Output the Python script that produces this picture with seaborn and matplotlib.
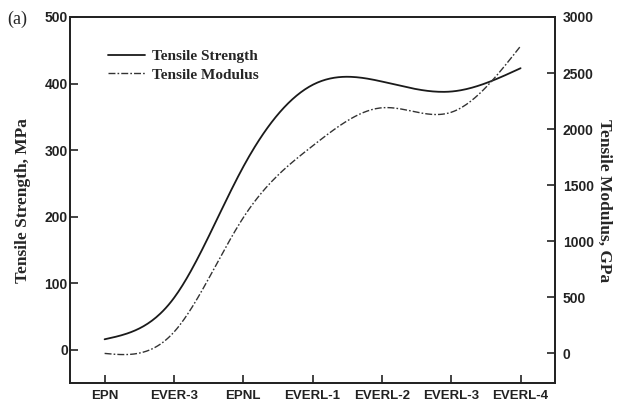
import numpy as np
import pandas as pd
import matplotlib
matplotlib.use("Agg")
import matplotlib.pyplot as plt
import seaborn as sns

categories = ["EPN", "EVER-3", "EPNL", "EVERL-1", "EVERL-2", "EVERL-3", "EVERL-4"]
tensile_strength = [16, 78, 275, 398, 403, 388, 423]        # MPa
tensile_modulus = [0, 190, 1210, 1850, 2190, 2150, 2740]    # GPa
left_ticks = [0, 100, 200, 300, 400, 500]
right_ticks = [0, 500, 1000, 1500, 2000, 2500, 3000]


def natural_spline(x, y, xs):
    x = np.asarray(x, float); y = np.asarray(y, float)
    n = len(x)
    h = np.diff(x)
    A = np.zeros((n, n)); b = np.zeros(n)
    A[0, 0] = 1; A[-1, -1] = 1
    for i in range(1, n - 1):
        A[i, i - 1] = h[i - 1]
        A[i, i] = 2 * (h[i - 1] + h[i])
        A[i, i + 1] = h[i]
        b[i] = 6 * ((y[i + 1] - y[i]) / h[i] - (y[i] - y[i - 1]) / h[i - 1])
    M = np.linalg.solve(A, b)
    out = np.empty_like(xs)
    for k, t in enumerate(xs):
        i = min(max(np.searchsorted(x, t) - 1, 0), n - 2)
        a = x[i + 1] - t; c = t - x[i]
        out[k] = (M[i] * a**3 / (6 * h[i]) + M[i + 1] * c**3 / (6 * h[i])
                  + (y[i] / h[i] - M[i] * h[i] / 6) * a
                  + (y[i + 1] / h[i] - M[i + 1] * h[i] / 6) * c)
    return out


xpos = np.arange(len(categories))
xs = np.linspace(0, len(categories) - 1, 300)
df_s = pd.DataFrame({"x": xs, "y": natural_spline(xpos, tensile_strength, xs)})
df_m = pd.DataFrame({"x": xs, "y": natural_spline(xpos, tensile_modulus, xs)})

sns.set_style("white")
plt.rcParams["font.family"] = ["Liberation Sans", "DejaVu Sans"]

fig = plt.figure(figsize=(6.19, 4.03), dpi=100)
ax = fig.add_axes([0.113, 0.049, 0.784, 0.909])
ax2 = ax.twinx()

sns.lineplot(data=df_s, x="x", y="y", ax=ax, color="#1a1a1a", linewidth=1.3,
             label="Tensile Strength", legend=False)
sns.lineplot(data=df_m, x="x", y="y", ax=ax2, color="#333333", linewidth=1.0,
             label="Tensile Modulus", legend=False)
ax2.lines[0].set_dashes([5, 1.5, 1.2, 1.5])

ax.set_xlim(-0.5, 6.5)
ax.set_ylim(-50, 500)
ax2.set_ylim(-266, 3000)
ax.set_xticks(xpos)
ax.set_xticklabels(categories)
ax.set_yticks(left_ticks)
ax2.set_yticks(right_ticks)
ax.set_xlabel(""); ax.set_ylabel(""); ax2.set_xlabel(""); ax2.set_ylabel("")

for a in (ax, ax2):
    for sp in a.spines.values():
        sp.set_linewidth(1.3)
        sp.set_color("#222222")
ax.tick_params(axis="y", direction="in", length=6, width=1.2, colors="#222222",
               labelsize=10, pad=1.5, left=True)
ax.tick_params(axis="x", direction="in", length=6, width=1.2, colors="#222222",
               labelsize=9.5, pad=5, bottom=True)
ax2.tick_params(axis="y", direction="in", length=6, width=1.2, colors="#222222",
                labelsize=10, pad=5.5, right=True)
for lab in ax.get_xticklabels() + ax.get_yticklabels() + ax2.get_yticklabels():
    lab.set_fontweight("bold")
    lab.set_color("#222222")

serif = ["Liberation Serif", "DejaVu Serif"]
ax.set_ylabel("Tensile Strength, MPa", family=serif, fontweight="bold",
              fontsize=12.5, labelpad=10)
ax2.set_ylabel("Tensile Modulus, GPa", family=serif, fontweight="bold",
               fontsize=12.5, rotation=270, labelpad=13)
fig.text(0.011, 0.952, "(a)", family=serif, fontsize=13, va="center", ha="left")

h1, l1 = ax.get_legend_handles_labels()
h2, l2 = ax2.get_legend_handles_labels()
leg = ax.legend(h1 + h2, l1 + l2, loc="upper left", bbox_to_anchor=(0.066, 0.927),
                frameon=False, prop={"family": serif, "weight": "bold", "size": 11},
                handlelength=2.4, handletextpad=0.45, labelspacing=0.3,
                borderaxespad=0)

fig.savefig("out.png", dpi=100)
